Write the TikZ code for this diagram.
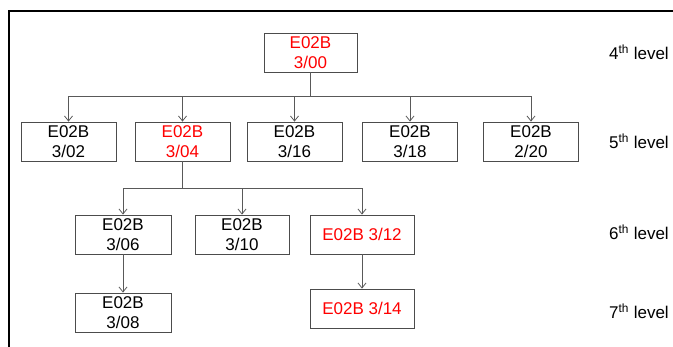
\documentclass[tikz,border=0pt]{standalone}
\usepackage{fontspec}
\setmainfont{Liberation Sans}
\usetikzlibrary{arrows.meta}

\tikzset{
  cls/.style={draw=black!70, line width=0.8pt, align=center, inner sep=0pt,
    minimum height=39pt, font=\fontsize{17}{19.5}\selectfont},
  tip/.style={draw=black!65, line width=0.8pt, -{Straight Barb[length=5pt,width=8pt]}},
  lvl/.style={anchor=west, inner sep=0pt, font=\fontsize{17}{20}\selectfont}
}

\begin{document}
\begin{tikzpicture}[x=1pt,y=-1pt]
  \useasboundingbox (0,0) rectangle (673,347);
  \draw[line width=2pt] (673,11) -- (9,11) -- (9,347);
  % 4th level
  \node[cls,text=red,minimum width=93pt] (c300) at (310.5,52.5) {E02B\\3/00};
  % 5th level
  \foreach \x/\nm/\col/\num in {68.5/c302/black/{3/02}, 182.5/c304/red/{3/04},
      294.5/c316/black/{3/16}, 410/c318/black/{3/18}, 531/c220/black/{2/20}} {
    \node[cls,text=\col,minimum width=95pt] (\nm) at (\x,141.5) {E02B\\\num}; }
  % 6th and 7th level
  \node[cls,minimum width=96pt] (c306) at (123,234.5) {E02B\\3/06};
  \node[cls,minimum width=94pt] (c310) at (242,234.5) {E02B\\3/10};
  \node[cls,text=red,minimum width=104pt] (c312) at (362,234.5) {E02B 3/12};
  \node[cls,minimum width=96pt] (c308) at (123,312.5) {E02B\\3/08};
  \node[cls,text=red,minimum width=104pt] (c314) at (362,308.5) {E02B 3/14};
  % connectors
  \coordinate (j4) at (310.5,96);
  \coordinate (j5) at (182.5,188);
  \foreach \c in {c302,c304,c316,c318,c220} {
    \draw[tip] (c300.south) -- (j4) -| (\c.north); }
  \foreach \c in {c306,c310,c312} {
    \draw[tip] (c304.south) -- (j5) -| (\c.north); }
  \draw[tip] (c306) -- (c308);
  \draw[tip] (c312) -- (c314);
  % level names
  \node[lvl] (l4) at (609,52.5) {4\textsuperscript{th} level};
  \node[lvl] (l5) at (609,141.5) {5\textsuperscript{th} level};
  \node[lvl] (l6) at (609,232) {6\textsuperscript{th} level};
  \node[lvl] (l7) at (609,311) {7\textsuperscript{th} level};
\end{tikzpicture}
\end{document}
